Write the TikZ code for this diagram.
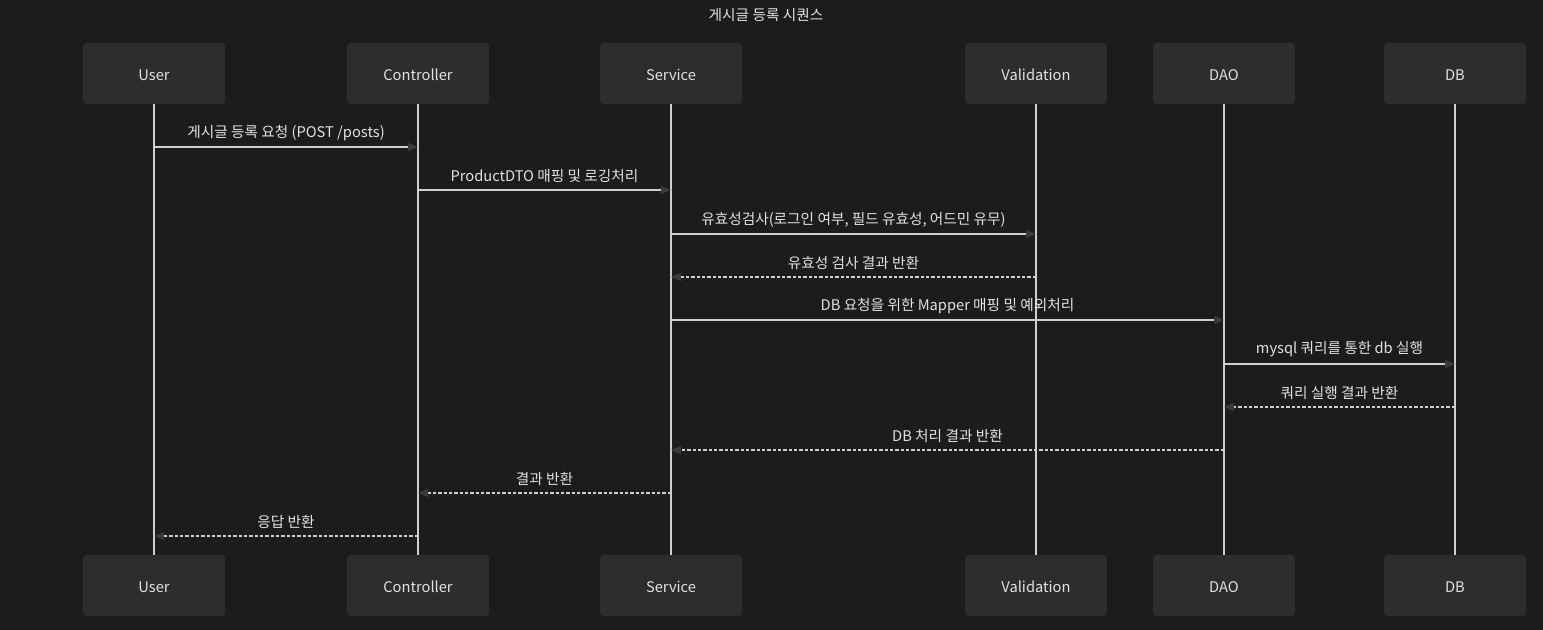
\documentclass[tikz,border=0pt]{standalone}
\usepackage{fontspec}
\setmainfont{Noto Sans CJK KR}
\usetikzlibrary{arrows.meta}
\definecolor{bgc}{HTML}{1C1C1C}
\definecolor{boxc}{HTML}{2D2D2D}
\definecolor{linec}{HTML}{CFCFCF}
\definecolor{txtc}{HTML}{E2E2E2}
\definecolor{tipc}{HTML}{3A3A3A}
\newcommand{\lblfont}{\fontsize{11}{13}\selectfont}
\tikzset{
  actor/.style={fill=boxc, draw=none, rounded corners=2.5pt, minimum width=106.5pt, minimum height=45.75pt, inner sep=0pt},
  actortext/.style={text=txtc, font=\lblfont, inner sep=0pt},
  life/.style={draw=linec, line width=1.3pt},
  msg/.style={draw=linec, line width=1pt, -{Triangle[length=7.5pt,width=6pt,color=tipc]}},
  ret/.style={msg, dash pattern=on 2.4pt off 1.6pt},
  lbl/.style={text=txtc, font=\lblfont, midway, yshift=10.8pt, inner sep=0pt},
}
\begin{document}
\begin{tikzpicture}[x=0.75pt, y=-0.75pt]
\fill[bgc] (0,0) rectangle (1543,630);
\useasboundingbox (0,0) rectangle (1543,630);
\node[text=txtc, font=\lblfont, inner sep=0pt] (title) at (766,15) {게시글 등록 시퀀스};
% top actors
\node[actor] (uT) at (154,73.5) {};
\node[actor] (cT) at (418,73.5) {};
\node[actor] (sT) at (671,73.5) {};
\node[actor] (vT) at (1036,73.5) {};
\node[actor] (dT) at (1224,73.5) {};
\node[actor] (bT) at (1455,73.5) {};
% bottom actors
\node[actor] (uB) at (154,585.5) {};
\node[actor] (cB) at (418,585.5) {};
\node[actor] (sB) at (671,585.5) {};
\node[actor] (vB) at (1036,585.5) {};
\node[actor] (dB) at (1224,585.5) {};
\node[actor] (bB) at (1455,585.5) {};
% actor names
\node[actortext] (uTl) at ([yshift=-1.2pt]uT.center) {User};
\node[actortext] (cTl) at ([yshift=-1.2pt]cT.center) {Controller};
\node[actortext] (sTl) at ([yshift=-1.2pt]sT.center) {Service};
\node[actortext] (vTl) at ([yshift=-1.2pt]vT.center) {Validation};
\node[actortext] (dTl) at ([yshift=-1.2pt]dT.center) {DAO};
\node[actortext] (bTl) at ([yshift=-1.2pt]bT.center) {DB};
\node[actortext] (uBl) at ([yshift=-1.2pt]uB.center) {User};
\node[actortext] (cBl) at ([yshift=-1.2pt]cB.center) {Controller};
\node[actortext] (sBl) at ([yshift=-1.2pt]sB.center) {Service};
\node[actortext] (vBl) at ([yshift=-1.2pt]vB.center) {Validation};
\node[actortext] (dBl) at ([yshift=-1.2pt]dB.center) {DAO};
\node[actortext] (bBl) at ([yshift=-1.2pt]bB.center) {DB};
% lifelines
\draw[life] (uT.south) -- (uB.north);
\draw[life] (cT.south) -- (cB.north);
\draw[life] (sT.south) -- (sB.north);
\draw[life] (vT.south) -- (vB.north);
\draw[life] (dT.south) -- (dB.north);
\draw[life] (bT.south) -- (bB.north);
% message rows
\coordinate (r1) at (0,147);
\coordinate (r2) at (0,190);
\coordinate (r3) at (0,234);
\coordinate (r4) at (0,277);
\coordinate (r5) at (0,320);
\coordinate (r6) at (0,364);
\coordinate (r7) at (0,407);
\coordinate (r8) at (0,450);
\coordinate (r9) at (0,493);
\coordinate (r10) at (0,536);
\draw[msg] (uT |- r1) -- (cT |- r1) node[lbl] {게시글 등록 요청 (POST /posts)};
\draw[msg] (cT |- r2) -- (sT |- r2) node[lbl] {ProductDTO 매핑 및 로깅처리};
\draw[msg] (sT |- r3) -- (vT |- r3) node[lbl] {유효성검사(로그인 여부, 필드 유효성, 어드민 유무)};
\draw[ret] (vT |- r4) -- (sT |- r4) node[lbl] {유효성 검사 결과 반환};
\draw[msg] (sT |- r5) -- (dT |- r5) node[lbl] {DB 요청을 위한 Mapper 매핑 및 예외처리};
\draw[msg] (dT |- r6) -- (bT |- r6) node[lbl] {mysql 쿼리를 통한 db 실행};
\draw[ret] (bT |- r7) -- (dT |- r7) node[lbl] {쿼리 실행 결과 반환};
\draw[ret] (dT |- r8) -- (sT |- r8) node[lbl] {DB 처리 결과 반환};
\draw[ret] (sT |- r9) -- (cT |- r9) node[lbl] {결과 반환};
\draw[ret] (cT |- r10) -- (uT |- r10) node[lbl] {응답 반환};
\end{tikzpicture}
\end{document}
